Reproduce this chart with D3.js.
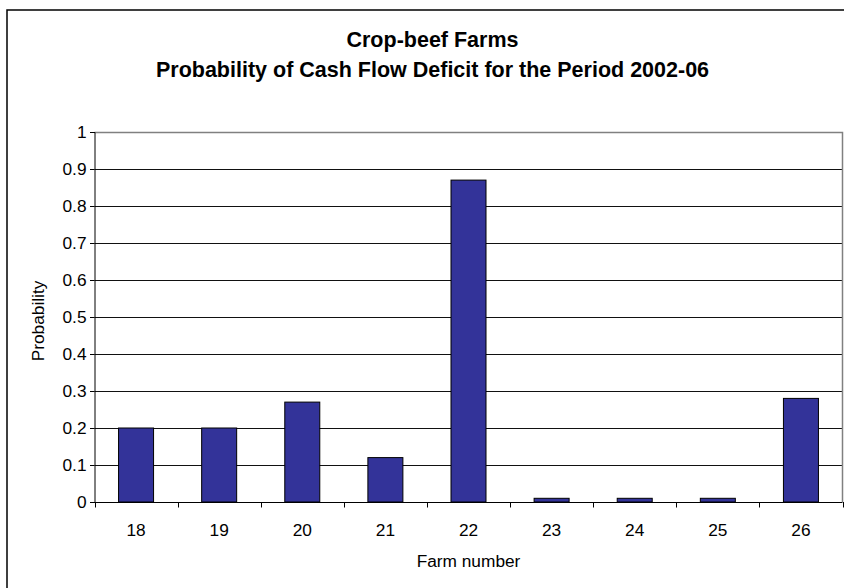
<!DOCTYPE html>
<html>
<head>
<meta charset="utf-8">
<script src="https://cdn.jsdelivr.net/npm/d3@7"></script>
<style>
html,body{margin:0;padding:0;background:#fff;}
svg{display:block;font-family:"Liberation Sans",Arial,sans-serif;}
</style>
</head>
<body>
<svg id="chart" width="844" height="588"></svg>
<script>
const farms = ["18","19","20","21","22","23","24","25","26"];
const probability = [0.2, 0.2, 0.27, 0.12, 0.87, 0.01, 0.01, 0.01, 0.28];
const yTicks = [0, 0.1, 0.2, 0.3, 0.4, 0.5, 0.6, 0.7, 0.8, 0.9, 1];
const yTickLabels = ["0","0.1","0.2","0.3","0.4","0.5","0.6","0.7","0.8","0.9","1"];
const titleLines = ["Crop-beef Farms", "Probability of Cash Flow Deficit for the Period 2002-06"];
const xTitle = "Farm number";
const yTitle = "Probability";

const svg = d3.select("#chart");
const L = 94.5, R = 842.5, T = 132, B = 502;
const FS = 17.3;

// outer chart border (extends past the visible frame)
svg.append("rect").attr("x", 7).attr("y", 10).attr("width", 900).attr("height", 700)
  .attr("fill", "#fff").attr("stroke", "#000").attr("stroke-width", 1.5);

const x = d3.scaleBand().domain(farms).range([L, R]).padding(0);
const y = d3.scaleLinear().domain([0, 1]).range([B, T]);

// gridlines
svg.append("g").selectAll("line").data(yTicks.filter(v => v > 0 && v < 1)).join("line")
  .attr("x1", L).attr("x2", R)
  .attr("y1", d => Math.round(y(d)) + 0.5).attr("y2", d => Math.round(y(d)) + 0.5)
  .attr("stroke", "#111").attr("stroke-width", 1);

// plot area border (top & right gray)
svg.append("path")
  .attr("d", `M${L},${T + 0.5}H${R}V${B}`)
  .attr("fill", "none").attr("stroke", "#808080").attr("stroke-width", 1.5);

// bars
const barW = 35;
svg.append("g").selectAll("rect").data(farms).join("rect")
  .attr("x", (d) => x(d) + (x.bandwidth() - barW) / 2)
  .attr("y", (d, i) => y(probability[i]))
  .attr("width", barW)
  .attr("height", (d, i) => y(0) - y(probability[i]))
  .attr("fill", "#333399").attr("stroke", "#000").attr("stroke-width", 1);

// y axis
const yAxis = d3.axisLeft(y).tickValues(yTicks).tickSize(4.5).tickPadding(3.5)
  .tickFormat((d, i) => yTickLabels[i]);
const gy = svg.append("g").attr("transform", `translate(${L},0)`).call(yAxis);
gy.select(".domain").attr("stroke", "#000");
gy.selectAll(".tick line").attr("stroke", "#000");
gy.selectAll("text").attr("font-size", FS).attr("fill", "#000")
  .attr("font-family", "Liberation Sans, Arial, sans-serif");

// x axis with ticks at category boundaries
const gx = svg.append("g").attr("transform", `translate(0,${B})`);
gx.append("line").attr("x1", L).attr("x2", R).attr("y1", 0.5).attr("y2", 0.5).attr("stroke", "#000");
const bounds = farms.map(f => x(f)).concat([x(farms[farms.length - 1]) + x.bandwidth()]);
gx.selectAll("line.tk").data(bounds).join("line").attr("class", "tk")
  .attr("x1", d => Math.round(d) + 0.5).attr("x2", d => Math.round(d) + 0.5)
  .attr("y1", 0).attr("y2", 5.5).attr("stroke", "#000");
gx.selectAll("text").data(farms).join("text")
  .attr("x", d => x(d) + x.bandwidth() / 2).attr("y", 33.5)
  .attr("text-anchor", "middle").attr("font-size", FS).attr("fill", "#000")
  .text(d => d);

// titles
svg.append("text").attr("x", 432.5).attr("y", 47).attr("text-anchor", "middle")
  .attr("font-size", 21.5).attr("font-weight", "bold").text(titleLines[0]);
svg.append("text").attr("x", 432.5).attr("y", 76.5).attr("text-anchor", "middle")
  .attr("font-size", 21.5).attr("font-weight", "bold").text(titleLines[1]);

svg.append("text").attr("x", (L + R) / 2).attr("y", 567).attr("text-anchor", "middle")
  .attr("font-size", FS).text(xTitle);
svg.append("text").attr("transform", `translate(43.5,321) rotate(-90)`)
  .attr("text-anchor", "middle").attr("font-size", FS).text(yTitle);
</script>
</body>
</html>
